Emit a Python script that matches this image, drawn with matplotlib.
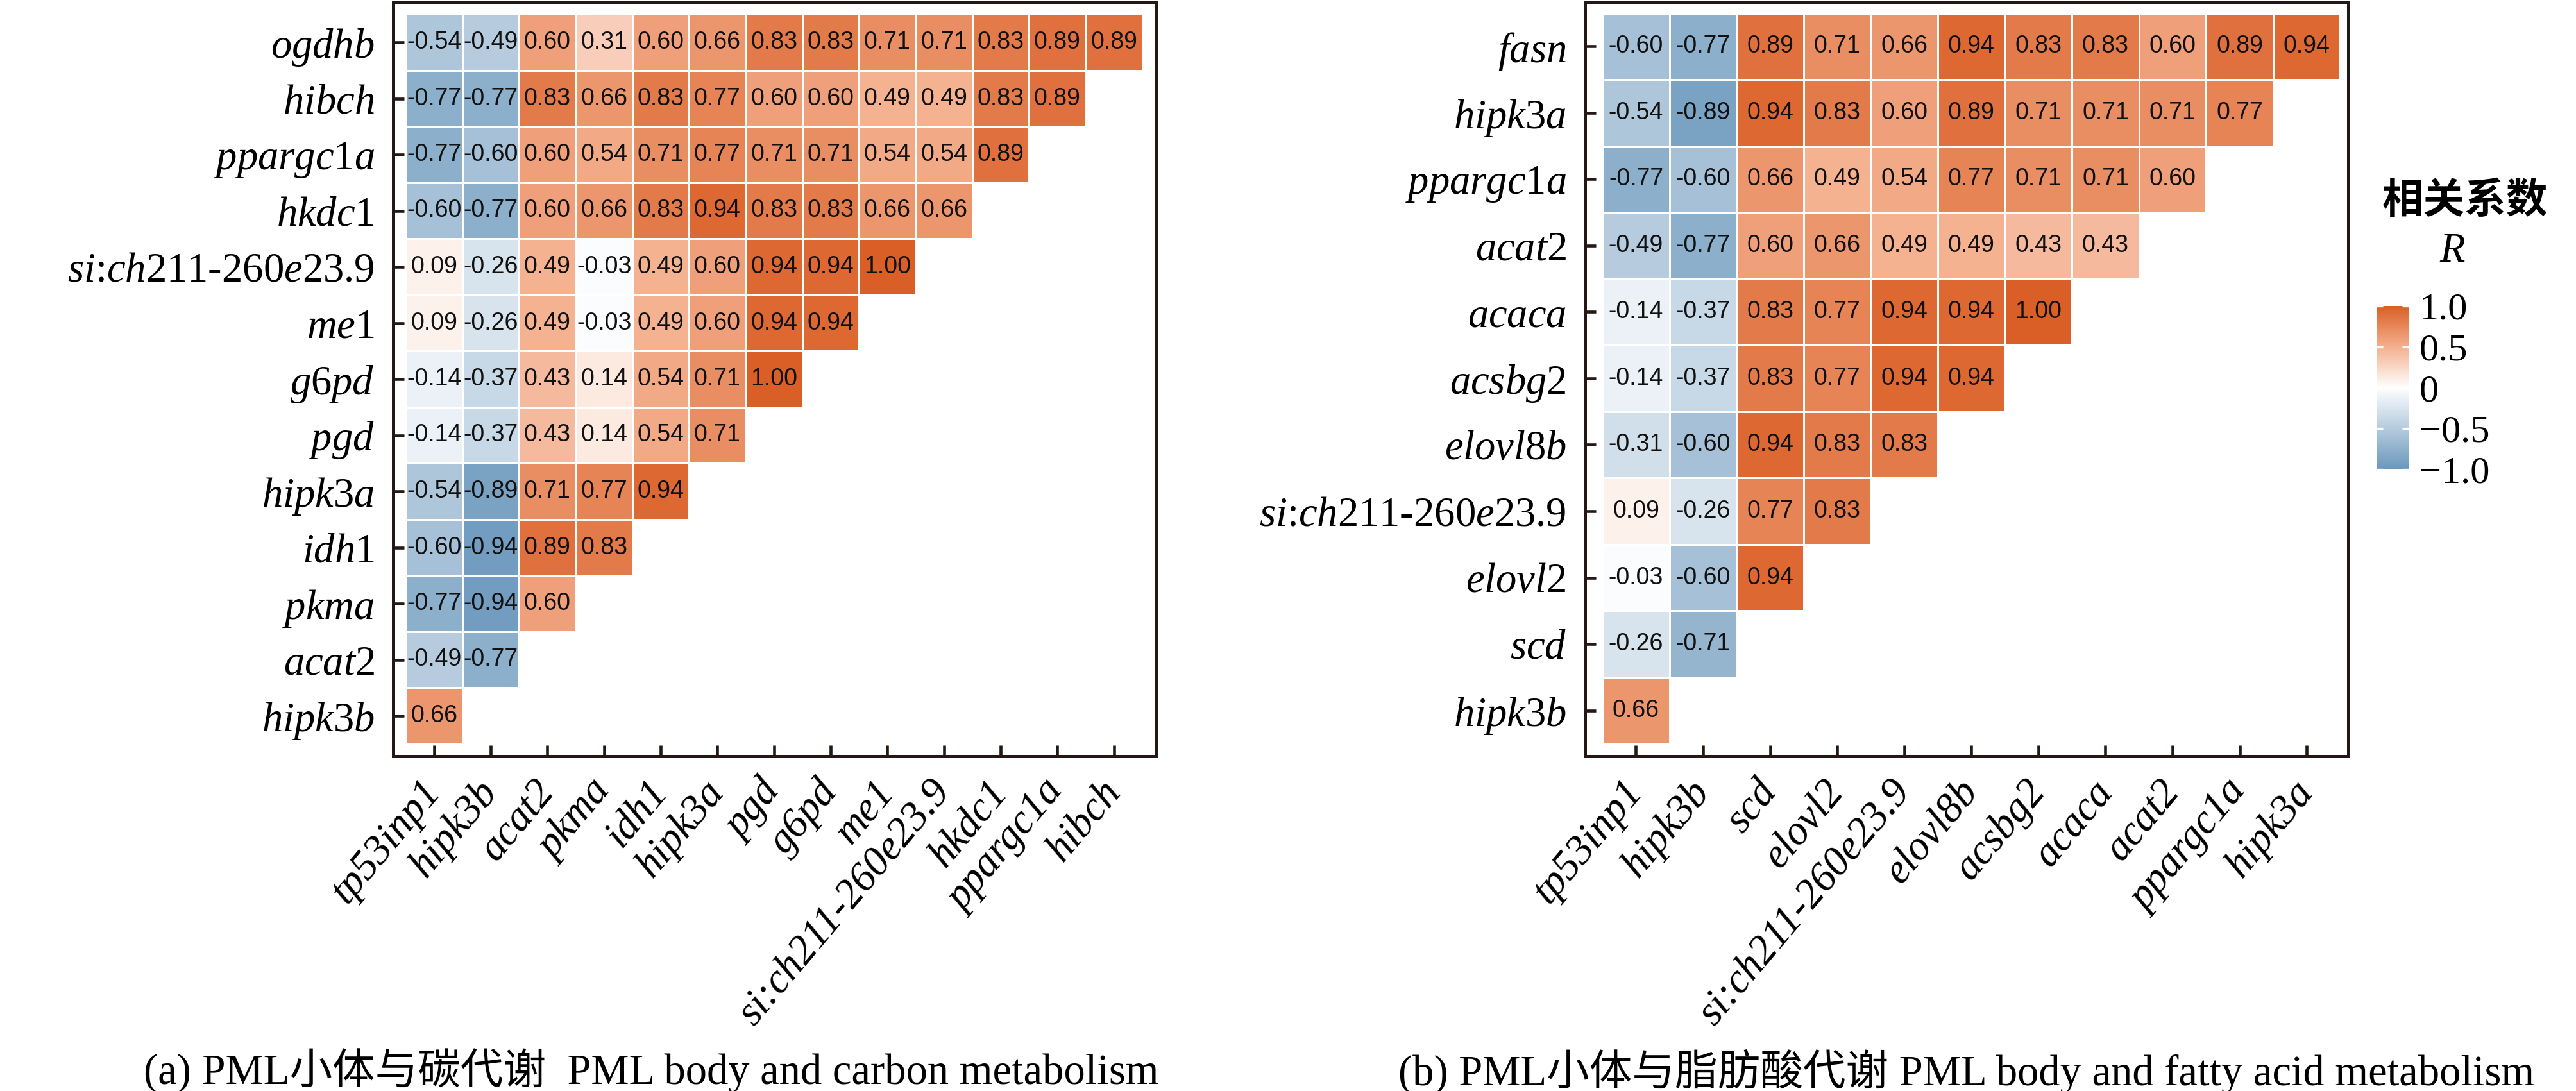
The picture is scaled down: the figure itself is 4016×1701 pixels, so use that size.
import numpy as np
import matplotlib
matplotlib.use("Agg")
import matplotlib.pyplot as plt
from matplotlib.colors import LinearSegmentedColormap, Normalize
from matplotlib.cm import ScalarMappable

plt.rcParams['font.family'] = ['Liberation Serif', 'Noto Sans CJK SC']
plt.rcParams['mathtext.fontset'] = 'custom'
plt.rcParams['mathtext.rm'] = 'Liberation Serif'
plt.rcParams['mathtext.it'] = 'Liberation Serif:italic'

# ---- data: panel (a) carbon metabolism ----
rows_a = ['ogdhb', 'hibch', 'ppargc1a', 'hkdc1', 'si:ch211-260e23.9', 'me1', 'g6pd',
          'pgd', 'hipk3a', 'idh1', 'pkma', 'acat2', 'hipk3b']
cols_a = ['tp53inp1', 'hipk3b', 'acat2', 'pkma', 'idh1', 'hipk3a', 'pgd', 'g6pd', 'me1',
          'si:ch211-260e23.9', 'hkdc1', 'ppargc1a', 'hibch']
vals_a = [
    [-0.54, -0.49, 0.60, 0.31, 0.60, 0.66, 0.83, 0.83, 0.71, 0.71, 0.83, 0.89, 0.89],
    [-0.77, -0.77, 0.83, 0.66, 0.83, 0.77, 0.60, 0.60, 0.49, 0.49, 0.83, 0.89],
    [-0.77, -0.60, 0.60, 0.54, 0.71, 0.77, 0.71, 0.71, 0.54, 0.54, 0.89],
    [-0.60, -0.77, 0.60, 0.66, 0.83, 0.94, 0.83, 0.83, 0.66, 0.66],
    [0.09, -0.26, 0.49, -0.03, 0.49, 0.60, 0.94, 0.94, 1.00],
    [0.09, -0.26, 0.49, -0.03, 0.49, 0.60, 0.94, 0.94],
    [-0.14, -0.37, 0.43, 0.14, 0.54, 0.71, 1.00],
    [-0.14, -0.37, 0.43, 0.14, 0.54, 0.71],
    [-0.54, -0.89, 0.71, 0.77, 0.94],
    [-0.60, -0.94, 0.89, 0.83],
    [-0.77, -0.94, 0.60],
    [-0.49, -0.77],
    [0.66],
]

# ---- data: panel (b) fatty acid metabolism ----
rows_b = ['fasn', 'hipk3a', 'ppargc1a', 'acat2', 'acaca', 'acsbg2', 'elovl8b',
          'si:ch211-260e23.9', 'elovl2', 'scd', 'hipk3b']
cols_b = ['tp53inp1', 'hipk3b', 'scd', 'elovl2', 'si:ch211-260e23.9', 'elovl8b', 'acsbg2',
          'acaca', 'acat2', 'ppargc1a', 'hipk3a']
vals_b = [
    [-0.60, -0.77, 0.89, 0.71, 0.66, 0.94, 0.83, 0.83, 0.60, 0.89, 0.94],
    [-0.54, -0.89, 0.94, 0.83, 0.60, 0.89, 0.71, 0.71, 0.71, 0.77],
    [-0.77, -0.60, 0.66, 0.49, 0.54, 0.77, 0.71, 0.71, 0.60],
    [-0.49, -0.77, 0.60, 0.66, 0.49, 0.49, 0.43, 0.43],
    [-0.14, -0.37, 0.83, 0.77, 0.94, 0.94, 1.00],
    [-0.14, -0.37, 0.83, 0.77, 0.94, 0.94],
    [-0.31, -0.60, 0.94, 0.83, 0.83],
    [0.09, -0.26, 0.77, 0.83],
    [-0.03, -0.60, 0.94],
    [-0.26, -0.71],
    [0.66],
]

# y labels: digits upright in some names
ylab_markup = {
    'ppargc1a': r'$\mathit{ppargc}$1$\mathit{a}$',
    'hkdc1': r'$\mathit{hkdc}$1',
    'me1': r'$\mathit{me}$1',
    'idh1': r'$\mathit{idh}$1',
    'si:ch211-260e23.9': r'$\mathit{si}$:$\mathit{ch}$211-260$\mathit{e}$23.9',
}

cmap = LinearSegmentedColormap.from_list(
    'rb', [(0.0, '#6A97BC'), (0.5, '#FFFFFF'), (0.75, '#F4B08F'), (1.0, '#DA5F27')])
norm = Normalize(-1, 1)

fig = plt.figure(figsize=(4016 / 300, 1701 / 300), dpi=300)


def corr_panel(ax, rows, cols, vals, pads):
    n_r, n_c = len(rows), len(cols)
    mat = np.full((n_r, n_c), np.nan)
    for i, r in enumerate(vals):
        mat[i, :len(r)] = r
    m = np.ma.masked_invalid(mat)
    ax.pcolormesh(np.arange(n_c + 1) - 0.5, np.arange(n_r + 1) - 0.5, m,
                  cmap=cmap, norm=norm, edgecolors='white', linewidth=0.6)
    for i, r in enumerate(vals):
        for j, v in enumerate(r):
            ax.text(j, i, f'{v:.2f}', ha='center', va='center', fontsize=9,
                    family='Liberation Sans', color='#111111')
    l, rt, t, b = pads
    ax.set_xlim(-0.5 - l, n_c - 0.5 + rt)
    ax.set_ylim(n_r - 0.5 + b, -0.5 - t)
    ax.tick_params(direction='in', length=4, width=1.1, color='#231815')
    ax.tick_params(axis='x', pad=11)
    ax.tick_params(axis='y', pad=7)
    ax.set_xticks(range(n_c))
    ax.set_xticklabels(cols, rotation=50, ha='right', va='center',
                       rotation_mode='anchor', fontsize=15.5)
    for lab in ax.get_xticklabels():
        lab.set_fontstyle('italic')
        lab.set_family('Liberation Serif')
    ax.set_yticks(range(n_r))
    ax.set_yticklabels([ylab_markup.get(r, r'$\mathit{%s}$' % r) for r in rows], fontsize=15.5)
    for s in ax.spines.values():
        s.set_linewidth(1.2)
        s.set_color('#231815')


ax1 = fig.add_axes([613 / 4016, 1 - 1179 / 1701, 1189 / 4016, 1176 / 1701])
corr_panel(ax1, rows_a, cols_a, vals_a, (0.22, 0.24, 0.22, 0.22))

ax2 = fig.add_axes([2471 / 4016, 1 - 1179 / 1701, 1190 / 4016, 1176 / 1701])
corr_panel(ax2, rows_b, cols_b, vals_b, (0.26, 0.12, 0.17, 0.19))

# colour bar
cax = fig.add_axes([3705 / 4016, 1 - 732 / 1701, 50 / 4016, 255 / 1701])
cb = fig.colorbar(ScalarMappable(norm=norm, cmap=cmap), cax=cax)
cb.outline.set_visible(False)
cb.set_ticks([-1, -0.5, 0, 0.5, 1])
cb.set_ticklabels(['\u22121.0', '\u22120.5', '0', '0.5', '1.0'])
cax.tick_params(direction='in', length=2.5, width=0.8, color='white', left=True, right=True,
                labelsize=14.5, pad=4)
fig.text(3843 / 4016, 1 - 313 / 1701, '相关系数', ha='center', va='center', fontsize=15.5,
         family='Noto Sans CJK SC', fontweight='bold')
fig.text(3823 / 4016, 1 - 392 / 1701, 'R', ha='center', va='center', fontsize=15.5,
         fontstyle='italic')

# captions
fig.text(1015 / 4016, 0.018, '(a) PML小体与碳代谢  PML body and carbon metabolism',
         ha='center', va='center', fontsize=16)
fig.text(3066 / 4016, 0.018, '(b) PML小体与脂肪酸代谢 PML body and fatty acid metabolism',
         ha='center', va='center', fontsize=16)

fig.savefig('out.png', dpi=300)
